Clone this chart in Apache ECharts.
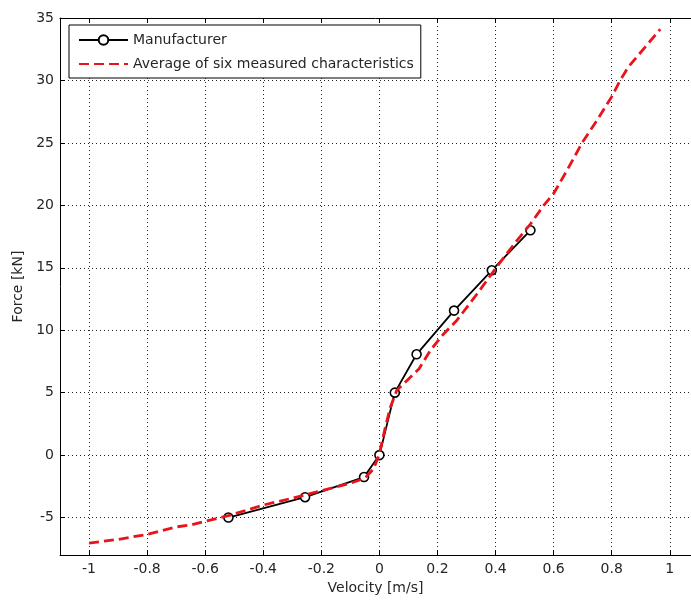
<!DOCTYPE html>
<html>
<head>
<meta charset="utf-8">
<script src="https://cdn.jsdelivr.net/npm/echarts@6/dist/echarts.min.js"></script>
<style>
  html, body { margin: 0; padding: 0; background: #fff; }
  #chart { width: 691px; height: 600px; }
</style>
</head>
<body>
<div id="chart"></div>
<script>
// Manufacturer's damper characteristic (velocity m/s, force kN)
const manufacturerVelocity = [-0.52, -0.256, -0.053, 0.0, 0.053, 0.128, 0.257, 0.387, 0.52];
const manufacturerForce    = [-5.0, -3.37, -1.76, 0.0, 5.0, 8.07, 11.57, 14.8, 18.0];

// Average of six measured characteristics
const measuredVelocity = [-1.0, -0.9, -0.8, -0.7, -0.65, -0.6, -0.52, -0.4, -0.3, -0.2, -0.1, -0.05,
  -0.02, 0.0, 0.02, 0.038, 0.06, 0.096, 0.136, 0.176, 0.221, 0.267, 0.336, 0.405, 0.474,
  0.52, 0.566, 0.6, 0.646, 0.698, 0.749, 0.8, 0.829, 0.858, 0.967];
const measuredForce = [-7.05, -6.75, -6.35, -5.75, -5.6, -5.3, -4.85, -4.0, -3.45, -2.85, -2.25, -1.85,
  -1.1, 0.1, 2.2, 3.85, 5.2, 6.0, 6.9, 8.4, 9.7, 10.8, 12.9, 15.1, 17.2,
  18.5, 20.0, 20.95, 22.8, 25.0, 26.8, 28.7, 30.0, 31.1, 34.1];

// Tick positions
const velocityTicks = [-1, -0.8, -0.6, -0.4, -0.2, 0, 0.2, 0.4, 0.6, 0.8, 1];
const forceTicks = [-5, 0, 5, 10, 15, 20, 25, 30, 35];

const seriesNames = ['Manufacturer', 'Average of six measured characteristics'];

const pairs = (xs, ys) => xs.map((x, i) => [x, ys[i]]);

const FONT = 'DejaVu Sans, sans-serif';
const TXT = '#262626';
const RED = '#e8141c';

const chart = echarts.init(document.getElementById('chart'), null, { renderer: 'canvas' });

const dotted = { color: '#222', width: 1, type: [1, 3] };
const velocityRange = { min: -1.1, max: 1.073 };

chart.setOption({
  animation: false,
  backgroundColor: '#fff',
  grid: { left: 60, top: 18, bottom: 45, right: 0, show: false },
  legend: {
    orient: 'vertical',
    left: 69,
    top: 25,
    data: [
      { name: seriesNames[0] },
      { name: seriesNames[1], itemStyle: { opacity: 0 } }
    ],
    itemWidth: 49,
    itemHeight: 12,
    itemGap: 10,
    padding: [8, 7, 7, 9],
    borderColor: '#000',
    borderWidth: 1,
    backgroundColor: '#fff',
    textStyle: { fontFamily: FONT, fontSize: 14, color: TXT },
    z: 10
  },
  xAxis: [{
    type: 'value',
    min: velocityRange.min,
    max: velocityRange.max,
    name: 'Velocity [m/s]',
    nameLocation: 'middle',
    nameGap: 26,
    nameTextStyle: { fontFamily: FONT, fontSize: 14, color: TXT },
    axisLine: { show: true, onZero: false, lineStyle: { color: '#000', width: 1 } },
    axisTick: { show: true, inside: true, length: 5, customValues: velocityTicks, lineStyle: { color: '#000' } },
    axisLabel: {
      customValues: velocityTicks, margin: 7,
      fontFamily: FONT, fontSize: 14, color: TXT,
      formatter: v => String(v)
    },
    splitLine: { show: true, lineStyle: dotted }
  }, {
    type: 'value',
    position: 'top',
    min: velocityRange.min,
    max: velocityRange.max,
    axisLine: { show: true, onZero: false, lineStyle: { color: '#000', width: 1 } },
    axisTick: { show: true, inside: true, length: 5, customValues: velocityTicks, lineStyle: { color: '#000' } },
    axisLabel: { show: false },
    splitLine: { show: false }
  }],
  yAxis: {
    type: 'value',
    min: -8,
    max: 35,
    name: 'Force [kN]',
    nameLocation: 'middle',
    nameGap: 32,
    nameTextStyle: { fontFamily: FONT, fontSize: 14, color: TXT },
    axisLine: { show: true, onZero: false, lineStyle: { color: '#000', width: 1 } },
    axisTick: { show: true, inside: true, length: 5, customValues: forceTicks, lineStyle: { color: '#000' } },
    axisLabel: {
      customValues: forceTicks, margin: 6,
      fontFamily: FONT, fontSize: 14, color: TXT,
      formatter: v => String(v)
    },
    splitLine: { show: true, lineStyle: dotted }
  },
  series: [{
    name: seriesNames[0],
    type: 'line',
    xAxisIndex: 0,
    data: pairs(manufacturerVelocity, manufacturerForce),
    symbol: 'circle',
    symbolSize: 9,
    showAllSymbol: true,
    lineStyle: { color: '#000', width: 1.8 },
    itemStyle: { color: '#fff', borderColor: '#000', borderWidth: 1.6 },
    z: 2
  }, {
    name: seriesNames[1],
    type: 'line',
    xAxisIndex: 0,
    data: pairs(measuredVelocity, measuredForce),
    symbol: 'none',
    lineStyle: { color: RED, width: 2.8, type: [10, 5] },
    itemStyle: { color: RED },
    z: 3
  }]
});
</script>
</body>
</html>
